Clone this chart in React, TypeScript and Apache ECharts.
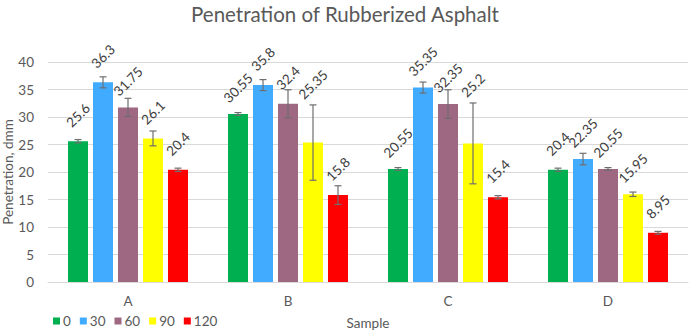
import React, { useEffect, useRef } from "react";
import * as echarts from "echarts";

const categories = ["A", "B", "C", "D"];
const seriesNames = ["0", "30", "60", "90", "120"];
const colors = ["#00b050", "#41acff", "#9e6782", "#ffff00", "#ff0000"];

// mean penetration per sample, one array per series
const values0 = [25.6, 30.55, 20.55, 20.4];
const values30 = [36.3, 35.8, 35.35, 22.35];
const values60 = [31.75, 32.4, 32.35, 20.55];
const values90 = [26.1, 25.35, 25.2, 15.95];
const values120 = [20.4, 15.8, 15.4, 8.95];

// half-range of each error bar
const err0 = [0.3, 0.25, 0.25, 0.3];
const err30 = [1.0, 1.0, 1.0, 1.05];
const err60 = [1.65, 2.55, 2.6, 0.25];
const err90 = [1.35, 6.85, 7.35, 0.4];
const err120 = [0.3, 1.7, 0.3, 0.25];

const yTicks = { min: 0, max: 40, interval: 5 };

const allValues = [values0, values30, values60, values90, values120];
const allErrors = [err0, err30, err60, err90, err120];

const BAR_CATEGORY_GAP = 0.25;
const BAR_GAP = 0.25;
const LABEL_ROTATE = 45;

// offset given in screen pixels, converted to the rotated label frame
function screenOffset(dx: number, dy: number): number[] {
  const t = (LABEL_ROTATE * Math.PI) / 180;
  return [dx * Math.cos(t) - dy * Math.sin(t), dx * Math.sin(t) + dy * Math.cos(t)];
}

export default function App() {
  const ref = useRef<HTMLDivElement>(null);

  useEffect(() => {
    if (!ref.current) return;
    const chart = echarts.init(ref.current, undefined, { renderer: "svg" });
    const font = "Lato, 'Noto Sans', sans-serif";
    const n = seriesNames.length;

    const barSeries = seriesNames.map((name, si) => ({
      name,
      type: "bar",
      barGap: `${BAR_GAP * 100}%`,
      barCategoryGap: `${BAR_CATEGORY_GAP * 100}%`,
      itemStyle: { color: colors[si] },
      data: allValues[si].map((v, ci) => {
        // the labels of the widest error bars are lifted clear of them
        const lifted = allErrors[si][ci] > 5;
        return {
          value: v,
          label: lifted ? { offset: screenOffset(0, -32) } : undefined,
        };
      }),
      label: {
        show: true,
        position: "top",
        distance: 26,
        rotate: LABEL_ROTATE,
        align: "center",
        verticalAlign: "middle",
        fontFamily: font,
        fontSize: 13.5,
        color: "#404040",
      },
    }));

    const errData: number[][] = [];
    allValues.forEach((vals, si) =>
      vals.forEach((v, ci) => {
        errData.push([ci, v - allErrors[si][ci], v + allErrors[si][ci], si]);
      })
    );

    const errorSeries = {
      type: "custom",
      name: "error",
      silent: true,
      z: 5,
      data: errData,
      encode: { x: 0, y: [1, 2] },
      renderItem: (params: any, api: any) => {
        const ci = api.value(0);
        const lo = api.value(1);
        const hi = api.value(2);
        const si = api.value(3);
        const band = api.size([1, 0])[0];
        const used = band * (1 - BAR_CATEGORY_GAP);
        const bw = used / (n + (n - 1) * BAR_GAP);
        const step = bw * (1 + BAR_GAP);
        const dx = (si - (n - 1) / 2) * step;
        const pLo = api.coord([ci, lo]);
        const pHi = api.coord([ci, hi]);
        const x = pLo[0] + dx;
        const cap = 3.5;
        const style = { stroke: "#6e6e6e", lineWidth: 1.2 };
        return {
          type: "group",
          children: [
            { type: "line", shape: { x1: x, y1: pLo[1], x2: x, y2: pHi[1] }, style },
            { type: "line", shape: { x1: x - cap, y1: pLo[1], x2: x + cap, y2: pLo[1] }, style },
            { type: "line", shape: { x1: x - cap, y1: pHi[1], x2: x + cap, y2: pHi[1] }, style },
          ],
        };
      },
    };

    chart.setOption({
      animation: false,
      title: {
        text: "Penetration of Rubberized Asphalt",
        left: "center",
        top: 3,
        padding: 0,
        textStyle: { fontFamily: font, fontSize: 20.5, fontWeight: "normal", color: "#595959" },
      },
      legend: {
        data: seriesNames,
        left: 48,
        top: 309,
        icon: "rect",
        itemWidth: 7,
        itemHeight: 7,
        itemGap: 9,
        textStyle: { fontFamily: font, fontSize: 13.5, color: "#595959", padding: [0, 0, 0, -2] },
      },
      grid: {
        left: 48,
        right: 2,
        top: 62,
        bottom: 50,
        containLabel: false,
        outerBoundsMode: "none",
      },
      xAxis: {
        type: "category",
        data: categories,
        name: "Sample",
        nameLocation: "middle",
        nameGap: 34,
        nameMoveOverlap: false,
        nameTextStyle: { fontFamily: font, fontSize: 13.5, color: "#595959" },
        axisLine: { lineStyle: { color: "#d9d9d9" } },
        axisTick: { show: false },
        axisLabel: { fontFamily: font, fontSize: 13.5, color: "#595959", margin: 12 },
      },
      yAxis: {
        type: "value",
        min: yTicks.min,
        max: yTicks.max,
        interval: yTicks.interval,
        name: "Penetration, dmm",
        nameLocation: "middle",
        nameGap: 33,
        nameMoveOverlap: false,
        nameTextStyle: { fontFamily: font, fontSize: 13.5, color: "#595959" },
        axisLine: { show: false },
        axisTick: { show: false },
        axisLabel: { fontFamily: font, fontSize: 13.5, color: "#595959", margin: 14 },
        splitLine: { lineStyle: { color: "#d9d9d9" } },
      },
      series: [...barSeries, errorSeries],
    });

    return () => chart.dispose();
  }, []);

  return (
    <div
      ref={ref}
      style={{ position: "fixed", left: 0, top: 0, width: 690, height: 332, background: "#fff" }}
    />
  );
}
